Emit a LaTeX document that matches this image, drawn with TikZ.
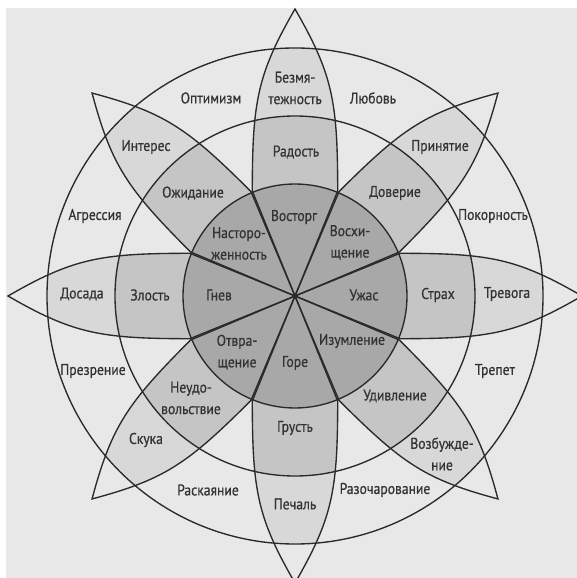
\documentclass[tikz,border=0pt]{standalone}
\usepackage{fontspec}
\setmainfont[FakeStretch=0.88,FakeBold=0.6]{PT Sans}
\definecolor{bg}{HTML}{E8E8E8}
\definecolor{ringA}{HTML}{D8D8D8}
\definecolor{ringB}{HTML}{C5C5C5}
\definecolor{ringC}{HTML}{A8A8A8}
\definecolor{ink}{HTML}{2A2A2A}
\definecolor{txt}{HTML}{333333}
\tikzset{
  lbl/.style={text=txt, font=\fontsize{15.5}{21.5}\selectfont, align=center, inner sep=0pt},
  edge/.style={draw=ink, line width=1.35pt},
}
\newcommand{\petalshape}[1]{%
  [rotate=#1] (0,0) -- (105,42.7) .. controls (195,42.7) and (222,37.5) .. (287,0)
  .. controls (222,-37.5) and (195,-42.7) .. (105,-42.7) -- cycle}
\begin{document}
\begin{tikzpicture}[x=1pt,y=1pt]
\useasboundingbox (-295,-282) rectangle (282,296);
\clip (-295,-282) rectangle (282,296);
\fill[white] (-295,-282) rectangle (282,296);
\fill[bg] (-289,-282) rectangle (282,288);
% outer petal band
\begin{scope}
  \clip (0,0) circle (248);
  \foreach \a in {0,45,...,315} { \fill[ringA] \petalshape{\a}; }
\end{scope}
\begin{scope}
  \clip (0,0) circle (180);
  \foreach \a in {0,45,...,315} { \fill[ringB] \petalshape{\a}; }
\end{scope}
\fill[ringC] (0,0) circle (112);
% outlines
\coordinate (O) at (0,0);
\draw[edge] (O) circle (112);
\draw[edge] (O) circle (180);
\draw[edge] (O) circle (248);
\foreach \a in {0,45,...,315} { \draw[edge, line join=miter] \petalshape{\a}; }
% labels
\node[lbl] (l1) at (0,208) {Безмя-\\тежность};
\node[lbl] (l2) at (1,144) {Радость};
\node[lbl] (l3) at (-1,79) {Восторг};
\node[lbl] (l4) at (-84,198) {Оптимизм};
\node[lbl] (l5) at (78,198) {Любовь};
\node[lbl] (l6) at (-149,149) {Интерес};
\node[lbl] (l7) at (145,149) {Принятие};
\node[lbl] (l8) at (-102,103) {Ожидание};
\node[lbl] (l9) at (100,103) {Доверие};
\node[lbl] (l10) at (-200,80) {Агрессия};
\node[lbl] (l11) at (198,80) {Покорность};
\node[lbl] (l12) at (-56,52.5) {Насторо-\\женность};
\node[lbl] (l13) at (55,53.7) {Восхи-\\щение};
\node[lbl] (l14) at (-213,2) {Досада};
\node[lbl] (l15) at (-145,1) {Злость};
\node[lbl] (l16) at (-76,1) {Гнев};
\node[lbl] (l17) at (69,1) {Ужас};
\node[lbl] (l18) at (143,1) {Страх};
\node[lbl] (l19) at (212,2) {Тревога};
\node[lbl] (l20) at (-58,-56) {Отвра-\\щение};
\node[lbl] (l21) at (0,-67) {Горе};
\node[lbl] (l22) at (57,-45) {Изумление};
\node[lbl] (l23) at (-202,-75) {Презрение};
\node[lbl] (l24) at (200,-75) {Трепет};
\node[lbl] (l25) at (-104,-102) {Неудо-\\вольствие};
\node[lbl] (l26) at (100,-100) {Удивление};
\node[lbl] (l27) at (0,-132) {Грусть};
\node[lbl] (l28) at (-149,-144) {Скука};
\node[lbl] (l29) at (147,-158) {Возбужде-\\ние};
\node[lbl] (l30) at (-87,-194) {Раскаяние};
\node[lbl] (l31) at (90,-194) {Разочарование};
\node[lbl] (l32) at (0,-208) {Печаль};
\end{tikzpicture}
\end{document}
